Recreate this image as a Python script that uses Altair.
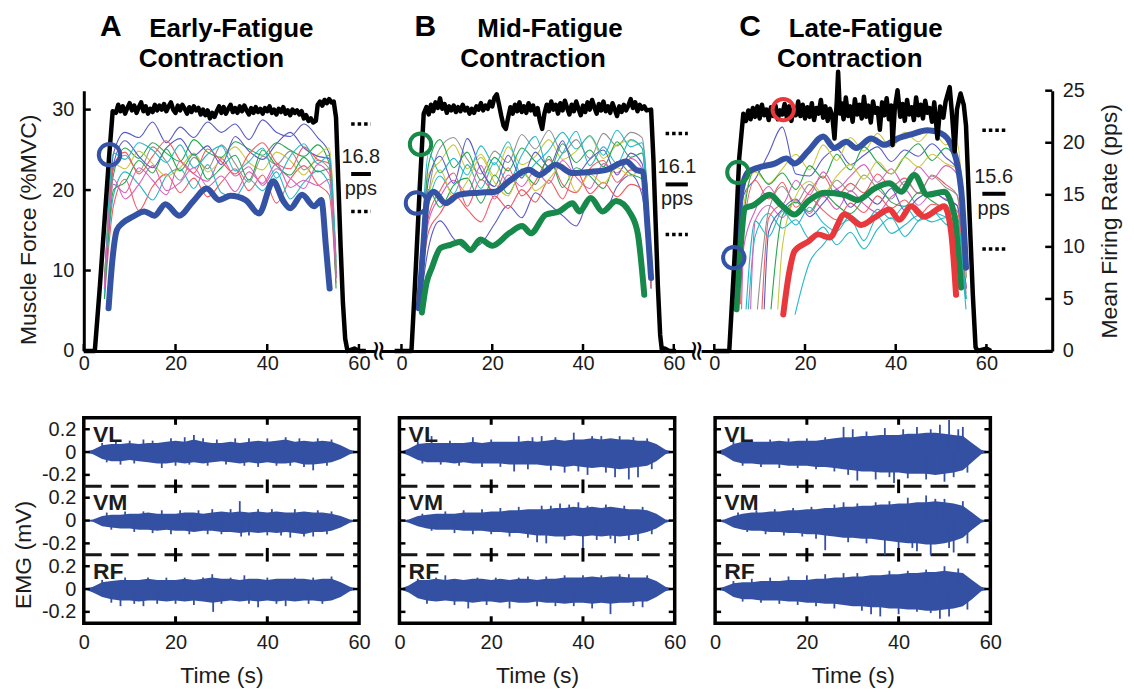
import altair as alt
import pandas as pd

FONT = "Liberation Sans"
INK = "#1c1c1c"
BLUE = "#3453a5"
GREEN = "#17894a"
RED = "#e8383c"
EMG_BLUE = "#3450a2"
THIN_COL = {"b": "#5959c8", "g": "#25a64d", "r": "#f05a62", "c": "#27b8c8",
            "m": "#d663ba", "y": "#c9c940", "k": "#939393"}

# ---------------- force (%MVC) ----------------
A_FORCE = [(0,0),(2.4,0),(3.5,8),(4.5,16),(5.5,24),(6.3,29.8),(7,29.6),(7.5,30.6),(8,29.8),(8.5,30.4),(9,29.5),(9.5,30.2),(10,30.8),(10.5,29.9),(11,30.5),(11.5,29.6),(12,30.3),(12.5,30.9),(13,29.8),(13.5,30.4),(14,29.5),(14.5,30.1),(15,29.7),(15.5,30.6),(16,29.9),(16.5,30.5),(17,30.0),(17.5,30.7),(18,29.8),(18.5,30.4),(19,30.9),(19.5,30.0),(20,29.6),(20.5,30.5),(21,29.9),(21.5,30.6),(22,30.1),(22.5,29.5),(23,30.3),(23.5,29.7),(24,30.4),(24.5,29.9),(25,30.2),(25.5,29.4),(26,30.0),(26.5,29.3),(27,29.9),(27.5,28.9),(28,29.6),(28.5,29.1),(29,29.8),(29.5,30.4),(30,29.6),(30.5,30.3),(31,29.5),(31.5,30.1),(32,30.6),(32.5,29.7),(33,30.2),(33.5,29.6),(34,30.4),(34.5,29.8),(35,30.5),(35.5,29.9),(36,29.4),(36.5,30.2),(37,29.6),(37.5,30.3),(38,29.7),(38.5,30.1),(39,29.5),(39.5,30.2),(40,29.8),(40.5,30.4),(41,29.6),(41.5,30.0),(42,29.4),(42.5,30.1),(43,29.7),(43.5,30.3),(44,29.5),(44.5,29.9),(45,29.3),(45.5,30.0),(46,29.6),(46.5,29.9),(47,29.4),(47.5,29.8),(48,28.9),(48.5,29.3),(49,28.6),(49.5,28.9),(50,28.4),(50.6,28.6),(51,30.6),(51.5,31.0),(52,30.5),(52.5,31.2),(53,30.8),(53.5,31.3),(54,30.9),(54.5,31.0),(55,29.0),(55.5,21),(56,13),(56.5,6),(57,1.5),(57.5,0),(59,0.3),(60,0),(61.5,0)]

B_FORCE = [(-1.5,0),(2.2,0),(3,8.5),(4,20),(4.9,29.5),(5.5,30.3),(6,29.4),(6.5,30.6),(7,29.8),(7.5,30.9),(8,30.2),(8.5,31.4),(9,30.1),(9.5,30.7),(10,29.6),(10.5,30.4),(11,29.9),(11.5,30.5),(12,29.7),(12.5,30.3),(13,29.8),(13.5,30.6),(14,29.9),(14.5,30.2),(15,29.5),(15.5,30.1),(16,29.6),(16.5,30.4),(17,30.0),(17.5,30.8),(18,29.9),(18.5,30.5),(19,30.1),(19.5,31.0),(20,30.4),(20.5,31.5),(21,31.9),(21.5,30.6),(22,29.2),(22.5,28.0),(23,27.6),(23.5,29.0),(24,30.3),(24.5,29.5),(25,30.6),(25.5,29.8),(26,30.9),(26.5,29.7),(27,30.4),(27.5,29.6),(28,30.8),(28.5,29.9),(29,30.5),(29.5,29.4),(30,30.2),(30.5,28.6),(31,27.6),(31.5,29.5),(32,30.6),(32.5,29.8),(33,31.0),(33.5,30.0),(34,30.6),(34.5,29.5),(35,30.8),(35.5,29.9),(36,31.1),(36.5,30.2),(37,29.4),(37.5,30.6),(38,29.8),(38.5,31.0),(39,30.1),(39.5,29.3),(40,30.5),(40.5,29.7),(41,30.9),(41.5,30.0),(42,31.2),(42.5,30.3),(43,29.5),(43.5,30.7),(44,29.9),(44.5,31.0),(45,29.8),(45.5,30.4),(46,29.6),(46.5,30.8),(47,30.0),(47.5,29.2),(48,30.4),(48.5,29.7),(49,30.6),(49.5,29.9),(50,30.5),(50.5,31.3),(51,30.2),(51.5,30.9),(52,29.8),(52.5,30.6),(53,30.1),(53.5,30.4),(54,29.9),(55,30.0),(55.5,24),(56,16),(56.5,8),(57,2),(57.4,0),(58,0.3),(59,0),(60.5,0)]

C_FORCE = [(0,0),(3.3,0),(4.5,12),(5.5,24),(6.4,29.5),(7,28.6),(7.5,29.9),(8,28.8),(8.5,30.2),(9,29.1),(9.5,30.4),(10,28.9),(10.5,30.6),(11,29.3),(11.5,30.0),(12,28.7),(12.5,30.3),(13,29.2),(13.5,30.5),(14,28.8),(14.5,29.9),(15,29.4),(15.5,30.7),(16,29.0),(16.5,30.4),(17,28.6),(17.5,30.1),(18,29.3),(18.5,31.0),(19,29.2),(19.5,30.6),(20,28.9),(20.5,30.3),(21,29.1),(21.5,30.8),(22,28.7),(22.5,30.2),(23,29.5),(23.5,31.2),(24,29.0),(24.5,30.4),(25,28.6),(25.5,30.1),(26,29.3),(26.5,26.4),(27,31.0),(27.3,34.7),(27.7,29.5),(28,30.8),(28.5,28.8),(29,31.5),(29.5,29.2),(30,30.4),(30.5,28.5),(31,31.3),(31.5,29.4),(32,30.6),(32.5,28.9),(33,31.6),(33.5,29.1),(34,30.5),(34.5,28.4),(35,31.0),(35.5,29.6),(36,30.2),(36.5,27.5),(37,30.9),(37.5,29.3),(38,31.4),(38.5,28.8),(39,30.5),(39.3,25.6),(39.8,30.2),(40.4,32.4),(41,29.1),(41.5,30.7),(42,28.6),(42.5,31.2),(43,29.4),(43.5,30.3),(44,28.7),(44.5,31.5),(45,29.3),(45.5,30.6),(46,28.9),(46.5,31.1),(47,29.6),(47.5,30.2),(48,28.5),(48.5,30.9),(49.2,26.4),(49.8,30.4),(50.5,29.0),(51,31.0),(51.9,32.8),(52.4,29.5),(53,24.8),(53.5,30.0),(54,31.3),(54.3,32.0),(55,30.6),(55.5,28),(56.2,18),(57,7),(57.6,0.5),(58,0),(60,0.3),(61,0)]

# ---------------- thin motor-unit firing-rate lines (pps) ----------------
A_TIMES = [4.5, 6.5, 9, 12, 15, 18, 21, 24, 27, 30, 33, 36, 39, 42, 45, 48, 51, 53.5, 55]
A_THIN = [
    ("b", [6, 19, 21, 20.5, 22, 20, 21.5, 20.5, 22, 21, 21.8, 20.3, 22.2, 21, 20.6, 21.8, 20.5, 19, 7]),
    ("g", [7, 17, 19.5, 18.5, 20, 19, 18.2, 20.3, 19.1, 18.6, 20.1, 19.4, 18.8, 20, 19.3, 18.7, 19.8, 18, 8]),
    ("r", [5, 14, 16.5, 13.5, 15.8, 17, 15.2, 16.6, 14.8, 16.2, 17.5, 15.4, 16.9, 14.2, 16.5, 17.8, 16, 15, 6.5]),
    ("c", [6, 15, 17.2, 16, 14.5, 16.8, 17.5, 15.6, 17.9, 15.2, 14.8, 16.5, 15.4, 17.2, 14.6, 16.2, 17.3, 16, 7]),
    ("m", [5.5, 16, 15.2, 17.6, 16.4, 15, 18.2, 17, 16.3, 18.5, 16.8, 17.7, 15.9, 17.5, 16.6, 15.6, 17.9, 17, 8]),
    ("y", [6.5, 18, 17.5, 19.2, 18, 16.8, 17.6, 19, 17.2, 18.4, 19.6, 18.1, 17.4, 19.1, 18.3, 16.9, 18.8, 19.5, 8]),
    ("k", [7, 17.5, 18.8, 17.2, 19.6, 18.2, 16.4, 18.6, 17.5, 19.8, 18, 16.2, 18.7, 17.9, 19.2, 17.4, 18.3, 17.5, 9]),
    ("b", [6, 18, 20.2, 18.7, 17.6, 19.5, 20.4, 18.8, 19.7, 17.9, 20.6, 19.2, 18.4, 19.9, 21, 19.5, 18.7, 18.5, 7.5]),
    ("g", [5, 15.5, 16.2, 18.3, 17.1, 19.4, 17.3, 18.9, 16.5, 17.6, 18.8, 16.4, 19.3, 17.8, 16.9, 18.6, 17.2, 17.5, 6]),
    ("r", [6, 17.8, 19.1, 17, 18.7, 20.2, 18.3, 17.1, 19.4, 18.2, 17, 18.9, 20, 18.1, 17.5, 19.6, 18.4, 18, 7]),
    ("c", [5.5, 19, 18.4, 20, 19.3, 18.1, 19.8, 17.6, 18.9, 19.7, 17.3, 18.2, 19.5, 16.6, 18.7, 19.9, 18, 18.8, 8.5]),
    ("m", [6, 16.5, 14.6, 16, 17.8, 15.4, 16.2, 17.6, 15.8, 16.8, 15.3, 17.2, 16.1, 18, 15.7, 16.4, 15.9, 16.5, 7]),
]

B_TIMES = [4.0, 6, 8.5, 11.5, 14.5, 17.5, 20.5, 23.5, 26.5, 29.5, 32.5, 35.5, 38.5, 41.5, 44.5, 47.5, 50.5, 53, 55]
B_THIN = [
    ("k", [5, 15, 19.5, 20.5, 18.4, 17, 19.2, 18.1, 20.8, 19.4, 21.2, 19, 20.3, 18.5, 20.9, 19.7, 21, 20.5, 7]),
    ("y", [6, 17, 18.2, 19.8, 17.5, 18.9, 16.8, 19.6, 17.9, 18.7, 20.3, 18.4, 19.2, 20.6, 18.5, 19.8, 20.2, 19.5, 8]),
    ("b", [4, 10, 12.5, 10.8, 9.8, 10.3, 12.2, 14.0, 12.8, 15.2, 14.1, 13.0, 12.0, 14.5, 13.2, 15.8, 16.9, 15, 6]),
    ("g", [5, 18, 20.3, 17.6, 19.1, 16.4, 18.6, 17.3, 19.5, 18.2, 17.2, 19.9, 18.1, 19.3, 17.7, 20.1, 18.6, 19, 6.5]),
    ("r", [4.5, 13, 15.4, 17.1, 13.9, 16.5, 15.3, 17.6, 14.9, 16.3, 18.4, 16.0, 15.2, 17.5, 18.3, 16.2, 17.4, 17, 7]),
    ("c", [5.5, 14, 16.8, 15.1, 17.9, 15.6, 18.1, 16.2, 18.8, 20.6, 17.4, 19.0, 21.1, 17.8, 19.6, 18.0, 20.3, 19.5, 6]),
    ("m", [4, 12.5, 14.8, 16.4, 15.2, 17.8, 14.6, 16.9, 15.8, 17.3, 16.1, 18.3, 16.7, 15.6, 18.0, 17.1, 18.5, 17.5, 6.5]),
    ("b", [5, 16.5, 18.7, 16.1, 20.4, 17.4, 15.8, 18.8, 16.6, 19.1, 17.7, 20.2, 17.0, 18.4, 19.3, 16.9, 19.0, 18, 7.5]),
    ("g", [6, 15.5, 13.8, 15.9, 16.6, 14.2, 16.9, 15.1, 17.2, 16.0, 18.7, 15.7, 17.6, 16.8, 15.6, 18.2, 17.0, 16.5, 7]),
    ("r", [5, 11.5, 13.2, 15.0, 13.6, 12.4, 14.9, 13.7, 15.5, 14.3, 16.4, 14.6, 17.3, 15.1, 16.2, 14.8, 16.0, 15.5, 6]),
    ("y", [4.5, 15, 17.4, 14.7, 16.3, 18.6, 16.2, 14.9, 17.5, 15.4, 16.5, 17.9, 15.3, 17.0, 16.1, 17.6, 16.8, 17.5, 7.5]),
    ("c", [5, 19, 17.1, 18.5, 16.9, 19.7, 17.9, 20.1, 16.8, 18.0, 19.3, 21.0, 19.4, 20.7, 18.8, 21.2, 19.6, 20, 8]),
]

C_TIMES = [6.5, 9, 12, 15, 18, 21, 24, 27, 30, 33, 36, 39, 42, 45, 48, 51, 53.5, 55.5]
# (colour, recruitment time, first rate, rates at C_TIMES)
C_THIN = [
    ("b", 5.0, 5, [15, 16.5, 19, 21.5, 17, 16.8, 18.5, 19.4, 17.9, 18.8, 19.6, 18.2, 19.3, 18.7, 19.9, 18.6, 17.5, 7]),
    ("y", 5.5, 5, [14, 17.2, 16.1, 17.5, 18.9, 17.4, 19.8, 18.3, 20.5, 19.2, 20.9, 19.5, 21.0, 20.1, 21.2, 19.8, 20, 8]),
    ("g", 5.2, 4.5, [13, 17.5, 16.0, 17.1, 15.5, 17.8, 16.6, 18.9, 17.4, 19.6, 18.1, 17.0, 18.7, 19.9, 18.3, 19.5, 18, 7]),
    ("r", 5.8, 4.5, [12, 16.4, 14.6, 16.2, 13.8, 15.3, 16.8, 14.9, 16.1, 15.2, 17.0, 15.8, 16.6, 15.1, 16.9, 16.0, 15, 6]),
    ("m", 6.0, 4, [10, 13.5, 15.8, 14.1, 16.4, 15.0, 17.2, 15.6, 16.8, 17.9, 16.2, 17.5, 15.9, 17.7, 16.5, 17.8, 17, 7]),
    ("c", 7.5, 4, [None, 11, 13.2, 11.8, 12.6, 10.8, 11.9, 10.2, 11.4, 9.8, 11.7, 12.8, 11.0, 12.5, 13.4, 12.2, 11.5, 5]),
    ("k", 9.5, 4, [None, None, 13.5, 15.8, 14.2, 16.0, 14.8, 16.4, 15.3, 16.9, 15.6, 14.6, 16.3, 15.2, 16.8, 15.7, 15, 6]),
    ("m", 8.0, 4, [None, 12.5, 14.0, 12.8, 14.5, 13.2, 14.9, 13.6, 15.4, 14.1, 13.3, 14.8, 15.5, 14.0, 15.1, 14.6, 14, 6]),
    ("b", 11.0, 4, [None, None, 11.5, 13.6, 14.6, 12.9, 14.2, 15.5, 13.8, 15.0, 14.1, 15.6, 13.5, 14.7, 15.3, 14.5, 14, 6]),
    ("c", 17.8, 3.5, [None, None, None, None, None, 8.5, 10.2, 11.8, 12.6, 10.6, 12.9, 11.3, 12.1, 13.0, 12.4, 12.8, 11.5, 4]),
    ("g", 12.5, 4, [None, None, None, 13.0, 14.3, 13.4, 15.1, 14.0, 13.2, 14.6, 15.8, 14.3, 13.9, 15.2, 14.4, 13.6, 13, 5]),
    ("r", 10.5, 4, [None, None, 12.8, 14.0, 13.1, 14.7, 13.5, 12.6, 14.2, 13.3, 14.9, 13.7, 14.5, 13.0, 14.1, 13.8, 13.5, 5.5]),
    ("y", 14.0, 4, [None, None, None, 10, 14.9, 16.3, 15.1, 16.8, 17.9, 16.5, 18.2, 17.0, 18.6, 17.7, 18.9, 18.0, 17.5, 7]),
    ("c", 7.0, 4, [None, 12.5, 11.0, 13.4, 12.1, 13.8, 12.3, 11.5, 13.0, 12.2, 13.6, 12.7, 13.9, 12.5, 13.3, 12.9, 12.5, 5]),
]

# ---------------- highlighted motor units (pps) ----------------
A_THICK = [(BLUE, [(5.4,4.1),(6.3,9.0),(7.2,11.6),(8.5,12.3),(10.7,12.9),(13.2,13.4),(15.4,13.0),(17.8,14.1),(20.8,13.0),(23.7,14.3),(26.8,15.6),(29.5,14.5),(32,14.9),(35.3,14.5),(38.2,13.2),(41.3,16.3),(43.5,14.4),(45,13.7),(47.6,15.0),(50.2,13.9),(51.8,14.5),(52.8,10),(53.6,6.0)])]
B_THICK = [
    (BLUE, [(3.8,4.1),(4.8,10),(5.6,14.4),(7.1,15.3),(9.7,14.2),(12.6,15.0),(17,15.2),(20.7,15.3),(23.7,16.3),(28.1,17.4),(30.3,16.9),(34,17.9),(37.6,17.1),(41.4,17.2),(45.1,17.4),(49.5,18.2),(51.7,17.4),(53.2,17.2),(54.2,12),(55,7.0)]),
    (GREEN, [(4.5,3.7),(5.5,6.5),(6.7,8.0),(8.6,9.9),(10.8,10.2),(13,10.5),(15.2,9.7),(17.4,10.7),(20,10.1),(23.7,11.3),(26.6,12),(28.5,11.3),(31.8,13.1),(34.7,13.4),(37.7,14.2),(39.2,13.4),(41.7,14.7),(44.3,13.4),(47.3,14.4),(50.6,13.1),(52.1,11.2),(53.5,5.4)]),
]
C_THICK = [
    (BLUE, [(4.5,5.3),(5.6,14.4),(7.5,17.2),(10.4,17.7),(13.3,18.0),(15.9,18.5),(17.7,18.0),(20.7,19.2),(24,20.6),(26.5,19.5),(29.1,20.1),(31.3,19.5),(34.6,20.4),(37.5,19.8),(40.4,20.4),(43.4,20.8),(47,21.2),(50,20.9),(52.2,19.8),(54.4,15.6),(55.5,8.0)]),
    (GREEN, [(4.9,4.0),(6.0,11),(6.7,13.7),(8.6,14.0),(12.2,15.0),(14.8,14.0),(17.7,13.1),(20.7,14.4),(24.3,15.2),(28.7,15.0),(31.6,14.5),(35.3,15.6),(38.6,16.1),(41.2,15.3),(44.1,16.9),(47,15.0),(50.7,15.3),(52.9,13.1),(54.4,6.1)]),
    (RED, [(15.2,3.5),(16.5,7.5),(17.7,9.6),(20.7,10.5),(22.9,11.2),(25.4,10.9),(28.7,13.1),(32.4,12.1),(35.3,12.8),(38.6,13.6),(40.8,12.6),(43.4,13.9),(46.3,12.9),(50.7,13.9),(52.2,11.5),(53.3,5.4)]),
]

# recruitment thresholds on the force trace (time s, %MVC)
A_CIRCLES = [(5.6, 24.4, BLUE)]
B_CIRCLES = [(4.2, 25.7, GREEN), (3.3, 18.4, BLUE)]
C_CIRCLES = [(15.2, 30.0, RED), (5.2, 22.2, GREEN), (4.3, 11.6, BLUE)]

# mean firing rate (pps) with upper / lower dotted markers
A_STATS = {"mean": "16.8", "bar": 17.0, "hi": 21.8, "lo": 13.4, "t0": 58.3, "t1": 62.6, "tx": 60.4}
B_STATS = {"mean": "16.1", "bar": 16.0, "hi": 20.9, "lo": 11.2, "t0": 58.2, "t1": 63.1, "tx": 60.7}
C_STATS = {"mean": "15.6", "bar": 15.1, "hi": 21.2, "lo": 9.8, "t0": 59.1, "t1": 64.2, "tx": 61.6}

# ---------------- EMG envelopes (mV) ----------------
EMG_T = [0, 2, 4, 6, 8, 10, 12, 14, 16, 18, 20, 22, 24, 26, 28, 30, 32, 34, 36, 38, 40, 42, 44, 46, 48, 50, 52, 54, 56, 58, 60]
A_EMG = {
    "VL": ([0, 0.02, 0.06, 0.07, 0.07, 0.08, 0.07, 0.08, 0.08, 0.09, 0.10, 0.09, 0.11, 0.09, 0.08, 0.08, 0.09, 0.08, 0.09, 0.10, 0.09, 0.10, 0.11, 0.09, 0.10, 0.09, 0.10, 0.09, 0.06, 0.02, 0],
           [0, 0.02, 0.06, 0.08, 0.08, 0.07, 0.08, 0.09, 0.10, 0.10, 0.09, 0.10, 0.09, 0.10, 0.09, 0.08, 0.09, 0.10, 0.09, 0.10, 0.09, 0.10, 0.10, 0.09, 0.11, 0.11, 0.10, 0.09, 0.06, 0.02, 0]),
    "VM": ([0, 0.01, 0.04, 0.05, 0.05, 0.06, 0.06, 0.07, 0.06, 0.06, 0.06, 0.07, 0.07, 0.06, 0.07, 0.08, 0.07, 0.08, 0.07, 0.08, 0.07, 0.08, 0.07, 0.07, 0.08, 0.07, 0.07, 0.06, 0.04, 0.01, 0],
           [0, 0.01, 0.05, 0.06, 0.07, 0.07, 0.08, 0.08, 0.09, 0.08, 0.09, 0.09, 0.10, 0.09, 0.09, 0.10, 0.10, 0.11, 0.10, 0.11, 0.10, 0.11, 0.10, 0.11, 0.12, 0.10, 0.10, 0.09, 0.06, 0.02, 0]),
    "RF": ([0, 0.02, 0.06, 0.07, 0.08, 0.08, 0.08, 0.09, 0.08, 0.08, 0.08, 0.09, 0.08, 0.09, 0.10, 0.09, 0.09, 0.08, 0.09, 0.09, 0.08, 0.09, 0.09, 0.09, 0.09, 0.08, 0.09, 0.09, 0.06, 0.02, 0],
           [0, 0.03, 0.07, 0.09, 0.10, 0.10, 0.11, 0.10, 0.10, 0.11, 0.10, 0.11, 0.10, 0.11, 0.12, 0.11, 0.10, 0.11, 0.10, 0.11, 0.10, 0.11, 0.10, 0.11, 0.10, 0.10, 0.11, 0.10, 0.07, 0.02, 0]),
}
B_EMG = {
    "VL": ([0, 0.03, 0.07, 0.08, 0.08, 0.08, 0.08, 0.08, 0.09, 0.08, 0.09, 0.09, 0.09, 0.09, 0.10, 0.09, 0.10, 0.11, 0.10, 0.11, 0.11, 0.12, 0.11, 0.12, 0.11, 0.11, 0.10, 0.10, 0.07, 0.02, 0],
           [0, 0.03, 0.07, 0.09, 0.09, 0.09, 0.10, 0.09, 0.10, 0.10, 0.10, 0.10, 0.11, 0.11, 0.11, 0.11, 0.12, 0.12, 0.13, 0.12, 0.13, 0.14, 0.13, 0.14, 0.15, 0.14, 0.13, 0.12, 0.08, 0.02, 0]),
    "VM": ([0, 0.01, 0.04, 0.05, 0.06, 0.06, 0.06, 0.07, 0.07, 0.07, 0.08, 0.08, 0.09, 0.09, 0.10, 0.10, 0.10, 0.11, 0.11, 0.12, 0.11, 0.12, 0.11, 0.12, 0.11, 0.10, 0.10, 0.09, 0.06, 0.01, 0],
           [0, 0.02, 0.05, 0.07, 0.08, 0.08, 0.08, 0.09, 0.09, 0.09, 0.10, 0.10, 0.11, 0.11, 0.12, 0.13, 0.13, 0.14, 0.14, 0.13, 0.14, 0.13, 0.14, 0.13, 0.14, 0.13, 0.12, 0.10, 0.07, 0.02, 0]),
    "RF": ([0, 0.03, 0.08, 0.08, 0.09, 0.08, 0.09, 0.08, 0.09, 0.09, 0.08, 0.09, 0.08, 0.09, 0.09, 0.08, 0.09, 0.09, 0.10, 0.10, 0.10, 0.11, 0.10, 0.11, 0.11, 0.10, 0.10, 0.10, 0.07, 0.02, 0],
           [0, 0.03, 0.08, 0.10, 0.11, 0.10, 0.11, 0.11, 0.12, 0.11, 0.11, 0.12, 0.11, 0.12, 0.12, 0.11, 0.12, 0.12, 0.13, 0.12, 0.12, 0.13, 0.12, 0.13, 0.12, 0.12, 0.11, 0.11, 0.07, 0.02, 0]),
}
C_EMG = {
    "VL": ([0, 0.03, 0.07, 0.09, 0.09, 0.09, 0.09, 0.10, 0.09, 0.10, 0.10, 0.10, 0.11, 0.12, 0.13, 0.13, 0.14, 0.14, 0.15, 0.15, 0.15, 0.16, 0.16, 0.17, 0.17, 0.16, 0.15, 0.14, 0.08, 0.02, 0],
           [0, 0.03, 0.08, 0.10, 0.10, 0.11, 0.11, 0.11, 0.12, 0.12, 0.12, 0.13, 0.13, 0.14, 0.15, 0.16, 0.17, 0.17, 0.18, 0.18, 0.18, 0.19, 0.19, 0.19, 0.20, 0.19, 0.18, 0.16, 0.09, 0.02, 0]),
    "VM": ([0, 0.01, 0.04, 0.06, 0.07, 0.07, 0.08, 0.08, 0.09, 0.09, 0.10, 0.10, 0.11, 0.11, 0.12, 0.12, 0.13, 0.13, 0.14, 0.14, 0.15, 0.15, 0.16, 0.16, 0.17, 0.16, 0.15, 0.13, 0.07, 0.01, 0],
           [0, 0.02, 0.06, 0.08, 0.09, 0.09, 0.10, 0.10, 0.11, 0.11, 0.12, 0.12, 0.13, 0.14, 0.15, 0.15, 0.16, 0.16, 0.17, 0.18, 0.19, 0.20, 0.20, 0.21, 0.21, 0.20, 0.18, 0.15, 0.08, 0.02, 0]),
    "RF": ([0, 0.02, 0.05, 0.06, 0.06, 0.07, 0.07, 0.07, 0.08, 0.08, 0.08, 0.09, 0.09, 0.10, 0.10, 0.11, 0.11, 0.12, 0.12, 0.13, 0.13, 0.14, 0.14, 0.15, 0.15, 0.16, 0.15, 0.14, 0.08, 0.02, 0],
           [0, 0.02, 0.07, 0.09, 0.09, 0.10, 0.10, 0.10, 0.11, 0.11, 0.12, 0.12, 0.13, 0.13, 0.14, 0.15, 0.15, 0.16, 0.16, 0.17, 0.17, 0.18, 0.18, 0.19, 0.19, 0.18, 0.17, 0.15, 0.09, 0.02, 0]),
}
# individual peaks that stick out of the envelope (time s, mV)
A_SPIKES = {
    "VL": [(4,0.08),(5,-0.09),(7,0.1),(8,-0.11),(10,0.1),(11,-0.1),(13,0.11),(15,0.1),(17,-0.14),(19,0.12),(20,-0.12),(22,0.13),(23,-0.11),(24,0.15),(26,0.12),(27,-0.12),(29,0.11),(31,-0.11),(33,0.12),(35,-0.12),(36,0.12),(38,-0.13),(40,0.12),(42,-0.12),(44,0.13),(45,-0.12),(47,0.12),(48,-0.13),(50,-0.16),(51,0.12),(53,-0.12),(54,0.11)],
    "VM": [(5,0.07),(6,-0.08),(9,0.08),(11,-0.1),(13,0.08),(15,-0.11),(17,0.09),(19,-0.12),(21,0.09),(23,-0.12),(25,0.09),(27,-0.12),(28,0.10),(30,-0.12),(32,0.1),(34,0.17),(34.3,-0.14),(36,-0.13),(38,0.1),(40,-0.13),(41,0.10),(43,-0.13),(45,-0.15),(46,0.1),(48,-0.14),(50,-0.14),(51,0.09),(53,-0.12),(54,0.08)],
    "RF": [(4,0.08),(6,-0.12),(8,-0.15),(9,0.1),(11,-0.13),(13,-0.15),(14,0.1),(16,-0.13),(18,0.1),(20,-0.13),(22,0.1),(24,-0.14),(26,0.1),(28,0.13),(28.2,-0.2),(30,-0.13),(32,0.1),(35,0.12),(36,-0.13),(38,-0.16),(40,0.1),(42,-0.13),(44,-0.15),(46,0.1),(49,-0.13),(50,0.1),(52,-0.13),(54,0.11)],
}
B_SPIKES = {
    "VL": [(4,0.09),(5,-0.1),(7,0.14),(9,-0.11),(11,0.1),(13,-0.12),(16,0.13),(18,-0.13),(20,0.11),(22,-0.13),(25,-0.17),(26,0.14),(28,-0.15),(29,0.13),(31,0.14),(33,-0.16),(34,0.13),(36,-0.18),(38,0.17),(39,-0.17),(41,-0.2),(42,0.14),(44,0.14),(45,-0.18),(47,-0.22),(48,0.14),(50,-0.24),(51,0.13),(52,-0.22),(54,0.12),(55,-0.15)],
    "VM": [(5,0.06),(7,-0.09),(10,0.08),(12,-0.11),(14,0.09),(16,-0.12),(18,0.1),(20,-0.12),(22,0.11),(24,-0.14),(26,0.12),(28,-0.15),(30,-0.19),(31,0.13),(32,-0.2),(33,0.13),(35,0.15),(36,-0.17),(37,0.14),(39,0.16),(40,-0.26),(41,0.13),(43,-0.17),(45,0.14),(46,-0.16),(47,-0.2),(49,0.13),(50,-0.17),(52,-0.18),(53,0.12),(55,-0.12)],
    "RF": [(4,0.09),(6,-0.13),(8,0.1),(10,0.12),(12,-0.14),(15,-0.17),(17,0.1),(19,-0.14),(21,0.1),(24,-0.17),(26,0.1),(28,0.11),(30,-0.15),(32,0.11),(34,-0.15),(36,0.12),(38,-0.15),(40,0.12),(42,-0.17),(44,0.12),(46,-0.22),(48,0.13),(50,0.13),(51,-0.15),(53,-0.16),(54,0.12)],
}
C_SPIKES = {
    "VL": [(4,0.09),(6,-0.12),(8,0.11),(10,-0.13),(12,0.11),(14,-0.14),(16,0.12),(18,-0.14),(20,0.12),(22,-0.15),(24,0.13),(26,-0.17),(28,0.22),(29,-0.2),(30,0.2),(31,-0.25),(33,0.18),(35,-0.24),(37,0.21),(38,-0.22),(39,-0.27),(41,0.2),(42,-0.23),(44,0.22),(46,-0.24),(47,0.2),(49,0.24),(50,-0.26),(51,0.28),(52,-0.22),(53,0.2),(54,0.22),(55,-0.18)],
    "VM": [(5,0.07),(7,-0.1),(9,0.09),(11,-0.12),(13,0.1),(15,-0.13),(17,0.11),(19,-0.14),(21,0.12),(22,-0.16),(24,-0.26),(26,0.14),(28,0.16),(29,-0.19),(31,0.15),(33,-0.2),(35,0.16),(37,-0.3),(38,0.17),(40,-0.28),(42,0.2),(43,-0.24),(44,-0.27),(46,0.22),(47,-0.3),(48,0.19),(50,0.19),(51,-0.24),(52,-0.28),(54,0.17),(55,-0.2)],
    "RF": [(4,0.07),(6,-0.11),(8,0.09),(10,-0.12),(12,0.1),(14,-0.13),(16,0.11),(18,-0.14),(20,0.12),(22,-0.15),(24,0.13),(26,-0.17),(28,0.14),(31,0.14),(32,-0.19),(34,-0.22),(36,-0.24),(38,0.16),(40,-0.22),(42,0.16),(44,-0.2),(46,0.17),(47,-0.21),(49,-0.26),(50,0.2),(51,-0.24),(53,0.18),(55,-0.18)],
}
BAND_OFF = {"VL": 0.6, "VM": 0.0, "RF": -0.6}

TOP_TICKS_X = [0, 20, 40, 60]
FORCE_TICKS = [0, 10, 20, 30]
RATE_TICKS = [0, 5, 10, 15, 20, 25]
EMG_TICKS = [-0.8, -0.6, -0.4, -0.2, 0, 0.2, 0.4, 0.6, 0.8]

# ---------------- layout constants ----------------
W_A, W_B, W_C = 292, 314, 352
H_TOP = 261
XD_A, XD_B, XD_C = [0, 63.5], [-4.4, 64.6], [-2.9, 74.5]
F_DOM = [0, 32.35]
R_DOM = [0, 25]
W_BOT, H_BOT = 276, 206

TOP_XAXIS = alt.Axis(values=TOP_TICKS_X, format="d", grid=False, ticks=False, domain=True,
                     domainColor="black", domainWidth=3, labelFontSize=20, labelFont=FONT,
                     labelColor=INK, labelPadding=3, labelFlush=False, labelOverlap=False, title=None)
LEFT_AXIS = alt.Axis(values=FORCE_TICKS, format="d", grid=False, ticks=False, domain=True,
                     domainColor="black", domainWidth=3, labelFontSize=20, labelFont=FONT,
                     labelColor=INK, labelPadding=10, labelFlush=False, labelOverlap=False,
                     title="Muscle Force (%MVC)", titleFontSize=23, titleFont=FONT,
                     titleFontWeight="normal", titleColor=INK, titlePadding=11, titleY=139)
RIGHT_AXIS = alt.Axis(orient="right", values=RATE_TICKS, format="d", grid=False, ticks=False,
                      domain=True, domainColor="black", domainWidth=3, labelFontSize=20,
                      labelFont=FONT, labelColor=INK, labelPadding=10, labelFlush=False,
                      labelOverlap=False, title="Mean Firing Rate (pps)", titleFontSize=23,
                      titleFont=FONT, titleFontWeight="normal", titleColor=INK, titleAngle=270,
                      titlePadding=37)
BOT_XAXIS = alt.Axis(values=TOP_TICKS_X, format="d", grid=False, ticks=False, domain=False,
                     labelFontSize=20, labelFont=FONT, labelColor=INK, labelPadding=9,
                     labelFlush=False, labelOverlap=False, title="Time (s)", titleFontSize=23,
                     titleFont=FONT, titleFontWeight="normal", titleColor=INK, titlePadding=12)
BOT_YAXIS = alt.Axis(values=EMG_TICKS, grid=False, ticks=False, domain=False,
                     labelExpr="['-0.2','0','0.2'][(round(datum.value*5)+4)%3]",
                     labelFontSize=20, labelFont=FONT, labelColor=INK, labelPadding=8,
                     labelFlush=False, labelOverlap=False, title="EMG (mV)", titleFontSize=23,
                     titleFont=FONT, titleFontWeight="normal", titleColor=INK, titlePadding=6,
                     titleY=137)


def top_panel(width, xdom, force, thin_rows, thick, circles, stats, titles, brk=None,
              left=False, right=False):
    xs = alt.Scale(domain=xdom, nice=False, zero=False)

    def X(f):
        return alt.X(f"{f}:Q", scale=xs, axis=TOP_XAXIS)

    def YF(f, axis=None):
        return alt.Y(f"{f}:Q", scale=alt.Scale(domain=F_DOM, nice=False, zero=False), axis=axis)

    def YR(f, axis=None):
        return alt.Y(f"{f}:Q", scale=alt.Scale(domain=R_DOM, nice=False, zero=False), axis=axis)

    layers = []
    thin_df = pd.DataFrame(thin_rows)
    layers.append(alt.Chart(thin_df).mark_line(strokeWidth=1.1, interpolate="monotone").encode(
        x=X("t"), y=YR("R", RIGHT_AXIS if right else None), detail="id:N",
        color=alt.Color("col:N", scale=None)))

    thick_rows = []
    for i, (col, pts) in enumerate(thick):
        for t, r in pts:
            thick_rows.append({"t": t, "R": r, "id": f"k{i}", "col": col})
    layers.append(alt.Chart(pd.DataFrame(thick_rows)).mark_line(
        strokeWidth=6, interpolate="monotone", strokeCap="round", strokeJoin="round").encode(
        x=X("t"), y=YR("R"), detail="id:N", color=alt.Color("col:N", scale=None)))

    fdf = pd.DataFrame(force, columns=["t", "F"])
    layers.append(alt.Chart(fdf).mark_line(color="black", strokeWidth=4.5, strokeJoin="round").encode(
        x=X("t"), y=YF("F", LEFT_AXIS if left else None)))

    cdf = pd.DataFrame(circles, columns=["t", "F", "col"])
    layers.append(alt.Chart(cdf).mark_point(shape="circle", filled=False, size=460, strokeWidth=4,
                                            opacity=1).encode(
        x=X("t"), y=YF("F"), stroke=alt.Stroke("col:N", scale=None)))

    dots = pd.DataFrame({"R": [stats["hi"], stats["lo"]], "t0": [stats["t0"]] * 2,
                         "t1": [stats["t1"]] * 2})
    layers.append(alt.Chart(dots).mark_rule(color="black", strokeWidth=3.5, strokeDash=[3.5, 3]).encode(
        x=X("t0"), x2="t1", y=YR("R")))
    bar = pd.DataFrame({"R": [stats["bar"]], "t0": [stats["t0"]], "t1": [stats["t1"]],
                        "tx": [stats["tx"]], "num": [stats["mean"]], "unit": ["pps"]})
    layers.append(alt.Chart(bar).mark_rule(color="black", strokeWidth=4).encode(
        x=X("t0"), x2="t1", y=YR("R")))
    layers.append(alt.Chart(bar).mark_text(fontSize=20, font=FONT, color=INK, dy=-17).encode(
        x=X("tx"), y=YR("R"), text="num:N"))
    layers.append(alt.Chart(bar).mark_text(fontSize=20, font=FONT, color=INK, dy=15).encode(
        x=X("tx"), y=YR("R"), text="unit:N"))

    # inward ticks
    xt = pd.DataFrame({"t": TOP_TICKS_X})
    layers.append(alt.Chart(xt).mark_rule(color="black", strokeWidth=2.5).encode(
        x=X("t"), y=alt.value(H_TOP), y2=alt.value(H_TOP - 7)))
    if left:
        yt = pd.DataFrame({"v": FORCE_TICKS})
        layers.append(alt.Chart(yt).mark_rule(color="black", strokeWidth=2.5).encode(
            y=YF("v"), x=alt.value(0), x2=alt.value(7)))
    if right:
        yt = pd.DataFrame({"v": RATE_TICKS})
        layers.append(alt.Chart(yt).mark_rule(color="black", strokeWidth=2.5).encode(
            y=YR("v"), x=alt.value(width), x2=alt.value(width - 7)))

    if brk is not None:
        bdf = pd.DataFrame({"t": [brk], "F": [0], "s": ["\u2248"]})
        layers.append(alt.Chart(bdf).mark_text(fontSize=28, font="DejaVu Sans", angle=90,
                                               color="black").encode(
            x=X("t"), y=YF("F"), text="s:N"))

    tdf = pd.DataFrame({"d": [0]})
    for txt, px, py, fs in titles:
        layers.append(alt.Chart(tdf).mark_text(text=txt, fontSize=fs, fontWeight="bold", font=FONT,
                                               color="black", align="center", baseline="middle").encode(
            x=alt.value(px), y=alt.value(py)))

    return alt.layer(*layers).resolve_scale(y="independent").properties(width=width, height=H_TOP)


def thin_simple(times, lines, prefix):
    rows = []
    for i, (c, vals) in enumerate(lines):
        for t, v in zip(times, vals):
            rows.append({"t": t, "R": v, "id": f"{prefix}{i}", "col": THIN_COL[c]})
    return rows


def thin_recruited(times, lines, prefix):
    rows = []
    for i, (c, t0, r0, vals) in enumerate(lines):
        rows.append({"t": t0, "R": r0, "id": f"{prefix}{i}", "col": THIN_COL[c]})
        for t, v in zip(times, vals):
            if v is not None:
                rows.append({"t": t, "R": v, "id": f"{prefix}{i}", "col": THIN_COL[c]})
    return rows


def bottom_panel(sig, spikes, show_y):
    xs = alt.Scale(domain=[0, 60], nice=False, zero=False)
    ys = alt.Scale(domain=[-0.9, 0.9], nice=False, zero=False)
    yax = BOT_YAXIS if show_y else None

    def X(f):
        return alt.X(f"{f}:Q", scale=xs, axis=BOT_XAXIS)

    def Y(f):
        return alt.Y(f"{f}:Q", scale=ys, axis=yax)

    area_rows, spike_rows, base_rows, lab_rows = [], [], [], []
    for band, (up, lo) in sig.items():
        off = BAND_OFF[band]
        for t, u, l in zip(EMG_T, up, lo):
            area_rows.append({"t": t, "top": off + u, "bot": off - l, "band": band})
        for t, v in spikes[band]:
            spike_rows.append({"t": t, "y0": off, "y1": off + v})
        base_rows.append({"y": off})
        lab_rows.append({"t": 2.0, "y": off + 0.15, "lab": band})

    layers = []
    sep = pd.DataFrame({"y": [0.3, -0.3]})
    layers.append(alt.Chart(sep).mark_rule(color="#161616", strokeWidth=3, strokeDash=[18, 9]).encode(
        y=Y("y"), x=alt.value(0), x2=alt.value(W_BOT)))
    layers.append(alt.Chart(pd.DataFrame(base_rows)).mark_rule(color=EMG_BLUE, strokeWidth=1.3).encode(
        y=Y("y"), x=alt.value(0), x2=alt.value(W_BOT)))
    layers.append(alt.Chart(pd.DataFrame(area_rows)).mark_area(color=EMG_BLUE, opacity=1,
                                                               interpolate="linear").encode(
        x=X("t"), y=Y("top"), y2="bot", detail="band:N"))
    layers.append(alt.Chart(pd.DataFrame(spike_rows)).mark_rule(color=EMG_BLUE, strokeWidth=1.8).encode(
        x=X("t"), y=Y("y0"), y2="y1"))

    yt = pd.DataFrame({"v": EMG_TICKS})
    layers.append(alt.Chart(yt).mark_rule(color="black", strokeWidth=2.5).encode(
        y=Y("v"), x=alt.value(0), x2=alt.value(6)))
    layers.append(alt.Chart(yt).mark_rule(color="black", strokeWidth=2.5).encode(
        y=Y("v"), x=alt.value(W_BOT), x2=alt.value(W_BOT - 6)))
    xt = pd.DataFrame({"t": [20, 40]})
    layers.append(alt.Chart(xt).mark_rule(color="black", strokeWidth=3).encode(
        x=X("t"), y=alt.value(0), y2=alt.value(7)))
    layers.append(alt.Chart(xt).mark_rule(color="black", strokeWidth=3).encode(
        x=X("t"), y=alt.value(H_BOT), y2=alt.value(H_BOT - 7)))
    cross = pd.DataFrame({"t": [20, 40, 20, 40], "y0": [0.24, 0.24, -0.36, -0.36],
                          "y1": [0.36, 0.36, -0.24, -0.24]})
    layers.append(alt.Chart(cross).mark_rule(color="black", strokeWidth=3).encode(
        x=X("t"), y=Y("y0"), y2="y1"))
    layers.append(alt.Chart(pd.DataFrame(lab_rows)).mark_text(
        fontSize=23, fontWeight="bold", font=FONT, color=INK, align="left", baseline="middle").encode(
        x=X("t"), y=Y("y"), text="lab:N"))

    return alt.layer(*layers).properties(
        width=W_BOT, height=H_BOT, view=alt.ViewBackground(stroke="black", strokeWidth=3.5, fill=None))


pA = top_panel(W_A, XD_A, A_FORCE, thin_simple(A_TIMES, A_THIN, "a"), A_THICK, A_CIRCLES, A_STATS,
               [("A", 27, -64, 30), ("Early-Fatigue", 148, -62, 26), ("Contraction", 128, -32, 26)],
               left=True)
pB = top_panel(W_B, XD_B, B_FORCE, thin_simple(B_TIMES, B_THIN, "b"), B_THICK, B_CIRCLES, B_STATS,
               [("B", 44, -64, 30), ("Mid-Fatigue", 169, -62, 26), ("Contraction", 152, -32, 26)],
               brk=-5.1)
pC = top_panel(W_C, XD_C, C_FORCE, thin_recruited(C_TIMES, C_THIN, "c"), C_THICK, C_CIRCLES, C_STATS,
               [("C", 49, -64, 30), ("Late-Fatigue", 165, -62, 26), ("Contraction", 149, -32, 26)],
               brk=-4.0, right=True)

bA = bottom_panel(A_EMG, A_SPIKES, True)
bB = bottom_panel(B_EMG, B_SPIKES, False)
bC = bottom_panel(C_EMG, C_SPIKES, False)

top = alt.hconcat(pA, pB, pC, spacing=6.5, bounds="flush")
bottom = alt.hconcat(bA, bB, bC, spacing=40.5, bounds="flush")

chart = alt.vconcat(top, bottom, spacing=40).properties(
    padding={"left": 2, "top": 3, "right": 4, "bottom": 2}
).configure_view(stroke=None)

chart.save("out.html", embed_options={"renderer": "svg", "actions": False})
